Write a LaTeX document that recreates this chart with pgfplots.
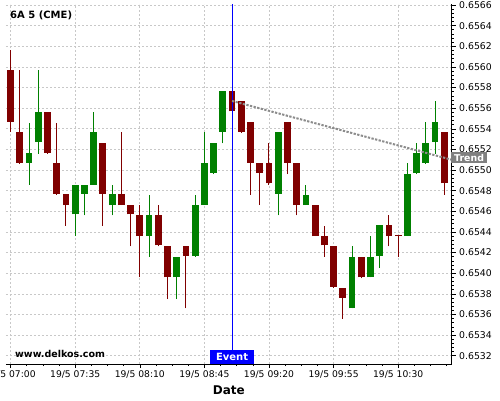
\documentclass[border=0pt]{standalone}
\usepackage{fontspec}
\setmainfont{DejaVu Sans}
\usepackage{pgfplots}
\usepackage{pgfplotstable}
\pgfplotsset{compat=1.18}
\definecolor{cred}{RGB}{128,0,0}
\definecolor{cgreen}{RGB}{0,128,0}
\definecolor{gridc}{RGB}{200,200,200}
\definecolor{trendc}{RGB}{140,140,140}
\definecolor{tboxc}{RGB}{128,128,128}

\pgfplotstableread{
i O H L C
0 0.65597 0.65616 0.65537 0.65547
1 0.65537 0.65597 0.65506 0.65507
4 0.65556 0.65556 0.65516 0.65517
5 0.65507 0.65546 0.65476 0.65477
6 0.65477 0.65477 0.65446 0.65466
10 0.65526 0.65526 0.65446 0.65477
12 0.65477 0.65537 0.65466 0.65466
13 0.65466 0.65466 0.65426 0.65457
14 0.65456 0.65466 0.65396 0.65436
16 0.65456 0.65466 0.65426 0.65427
17 0.65426 0.65426 0.65375 0.65396
19 0.65426 0.65426 0.65366 0.65417
24 0.65577 0.65577 0.65557 0.65557
25 0.65567 0.65567 0.65536 0.65537
26 0.65547 0.65547 0.65476 0.65507
27 0.65507 0.65507 0.65466 0.65497
28 0.65507 0.65526 0.65486 0.65487
30 0.65547 0.65547 0.65496 0.65507
31 0.65507 0.65507 0.65456 0.65466
33 0.65466 0.65466 0.65436 0.65436
34 0.65436 0.65446 0.65416 0.65427
35 0.65426 0.65426 0.65386 0.65387
36 0.65386 0.65386 0.65356 0.65376
38 0.65416 0.65416 0.65395 0.65396
41 0.65447 0.65456 0.65426 0.65436
42 0.65437 0.65437 0.65416 0.65436
47 0.65537 0.65537 0.65476 0.65487
}\reddata

\pgfplotstableread{
i O H L C
2 0.65507 0.65546 0.65486 0.65517
3 0.65527 0.65597 0.65516 0.65556
7 0.65457 0.65486 0.65436 0.65486
8 0.65477 0.65486 0.65456 0.65486
9 0.65486 0.65556 0.65486 0.65537
11 0.65466 0.65486 0.65456 0.65477
15 0.65436 0.65476 0.65416 0.65456
18 0.65396 0.65416 0.65375 0.65416
20 0.65417 0.65476 0.65416 0.65466
21 0.65466 0.65537 0.65466 0.65507
22 0.65497 0.65526 0.65496 0.65526
23 0.65537 0.65577 0.65526 0.65577
29 0.65477 0.65537 0.65456 0.65537
32 0.65466 0.65486 0.65466 0.65476
37 0.65366 0.65426 0.65366 0.65416
39 0.65396 0.65436 0.65396 0.65416
40 0.65417 0.65447 0.65405 0.65447
43 0.65436 0.65507 0.65436 0.65496
44 0.65497 0.65526 0.65496 0.65517
45 0.65507 0.65547 0.65506 0.65526
46 0.65527 0.65567 0.65516 0.65547
}\greendata

\begin{document}
\begin{tikzpicture}
\useasboundingbox (-6pt,-36pt) rectangle (494pt,364pt);
\begin{axis}[
  at={(0pt,0pt)}, anchor=south west,
  scale only axis, width=445.7pt, height=360pt,
  xmin=-0.5, xmax=47.8, ymin=0.65312, ymax=0.65661,
  axis x line*=bottom, axis y line*=right,
  axis line style={line width=1pt, black},
  xtick={0,7,14,21,28,35,42},
  xticklabels={\mbox{19/5 07:00},\mbox{19/5 07:35},\mbox{19/5 08:10},\mbox{19/5 08:45},\mbox{19/5 09:20},\mbox{19/5 09:55},\mbox{19/5 10:30}},
  minor xtick={1.75,3.5,5.25,8.75,10.5,12.25,15.75,17.5,19.25,22.75,24.5,26.25,29.75,31.5,33.25,36.75,38.5,40.25,43.75,45.5,47.25},
  ytick={0.6532,0.6534,0.6536,0.6538,0.6540,0.6542,0.6544,0.6546,0.6548,0.6550,0.6552,0.6554,0.6556,0.6558,0.6560,0.6562,0.6564,0.6566},
  minor y tick num=4,
  scaled y ticks=false,
  /pgf/number format/assume math mode=true,
  yticklabel style={/pgf/number format/fixed, /pgf/number format/fixed zerofill, /pgf/number format/precision=4,
     font=\fontsize{9.3}{11}\selectfont, anchor=west},
  xticklabel style={font=\fontsize{9.2}{11}\selectfont, yshift=1pt},
  grid=major,
  major grid style={gridc, line width=0.7pt, dash pattern=on 2pt off 2pt},
  tick align=outside, major tick length=4pt, minor tick length=2pt,
  tick style={black, line width=0.6pt},
  xlabel={Date},
  xlabel style={at={(axis description cs:0.5,0)}, anchor=base, yshift=-30pt, font=\bfseries\fontsize{12}{14}\selectfont},
]
% wicks
\addplot[draw=none, forget plot, error bars/.cd, y dir=plus, y explicit, error mark=none,
  error bar style={draw=cred, line width=1pt}]
  table[x=i, y=L, y error plus expr=\thisrow{H}-\thisrow{L}] {\reddata};
\addplot[draw=none, forget plot, error bars/.cd, y dir=plus, y explicit, error mark=none,
  error bar style={draw=cgreen, line width=1pt}]
  table[x=i, y=L, y error plus expr=\thisrow{H}-\thisrow{L}] {\greendata};
% bodies
\addplot[draw=none, forget plot, error bars/.cd, y dir=plus, y explicit, error mark=none,
  error bar style={draw=cred, line width=6.8pt}]
  table[x=i, y=C, y error plus expr=\thisrow{O}-\thisrow{C}] {\reddata};
\addplot[draw=none, forget plot, error bars/.cd, y dir=plus, y explicit, error mark=none,
  error bar style={draw=cgreen, line width=6.8pt}]
  table[x=i, y=O, y error plus expr=\thisrow{C}-\thisrow{O}] {\greendata};
% event line
\addplot[blue, line width=1pt] coordinates {(24,0.65312) (24,0.65661)};
% trend line
\addplot[trendc, line width=2pt, dash pattern=on 2.3pt off 1.4pt] coordinates {(24,0.65567) (47.8,0.65510)};
\node[anchor=south, fill=blue, text=white, font=\bfseries\fontsize{10}{12}\selectfont,
  inner xsep=6pt, inner ysep=0pt, minimum height=14pt] at (axis cs:24,0.65312) {Event};
\end{axis}
\node[anchor=base west, inner sep=0pt, font=\bfseries\fontsize{10}{12}\selectfont] at (4pt,345pt) {6A 5 (CME)};
\node[anchor=base west, inner sep=0pt, font=\bfseries\fontsize{9.5}{11}\selectfont] at (9pt,7pt) {www.delkos.com};
\node[anchor=west, fill=tboxc, text=white, font=\bfseries\fontsize{9.4}{10}\selectfont,
  inner xsep=3pt, inner ysep=0pt, minimum height=11.5pt] at (445pt,206.5pt) {Trend};
\end{tikzpicture}
\end{document}
